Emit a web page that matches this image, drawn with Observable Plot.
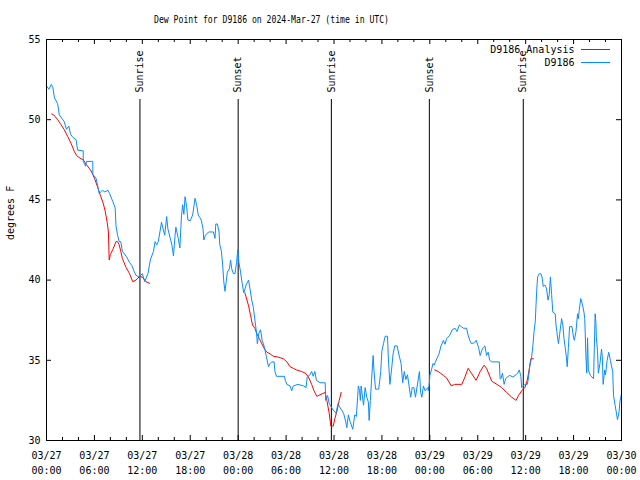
<!DOCTYPE html>
<html><head><meta charset="utf-8">
<script src="https://cdn.jsdelivr.net/npm/d3@7"></script>
<script src="https://cdn.jsdelivr.net/npm/@observablehq/plot@0.6"></script>
<style>body{margin:0;background:#fff;} svg{display:block;}</style>
</head><body><div id="chart"></div>
<script>
const title = "Dew Point for D9186 on 2024-Mar-27 (time in UTC)";
const yLabel = "degrees F";
const startUTC = Date.UTC(2024, 2, 27);

// D9186 station observations (hours since 03/27 00:00 UTC, °F)
const stationHours = [0.0,0.3,0.6,0.8,1.0,1.4,1.6,1.9,2.2,2.5,2.8,3.0,3.3,3.7,3.9,4.6,4.6,4.9,5.0,5.8,5.8,6.2,6.4,6.6,7.0,7.3,7.7,7.9,8.3,8.6,8.7,8.9,9.1,9.3,9.5,10.0,10.4,10.7,11.0,11.2,11.6,12.0,12.3,12.7,13.0,13.4,13.6,13.8,14.0,14.2,14.4,14.6,14.8,15.05,15.2,15.5,15.7,15.9,16.1,16.2,16.5,16.7,16.9,17.05,17.2,17.35,17.55,17.7,18.0,18.3,18.6,18.8,19.0,19.2,19.4,19.6,19.7,19.9,20.3,20.9,21.1,21.2,21.4,21.6,21.7,21.9,22.05,22.2,22.35,22.5,22.65,22.9,23.05,23.2,23.4,23.6,23.8,23.95,24.1,24.3,24.5,24.7,25.0,25.3,25.5,25.7,25.9,26.1,26.3,26.4,26.6,26.8,27.0,27.3,27.5,27.8,28.0,28.2,28.5,28.6,28.8,29.8,29.9,30.1,30.5,30.7,30.9,31.5,32.2,32.5,32.65,33.0,33.2,33.4,33.6,33.8,34.25,34.9,34.95,35.2,35.4,35.9,36.25,36.5,36.7,37.2,37.5,37.6,37.8,38.0,38.35,38.6,38.8,39.05,39.2,39.3,39.4,39.7,39.9,40.1,40.3,40.4,40.55,40.7,40.9,41.0,41.2,41.6,41.85,42.0,42.2,42.4,42.7,42.8,43.0,43.2,43.4,43.6,43.9,44.2,44.4,44.6,44.8,45.0,45.2,45.4,45.6,45.8,46.0,46.2,46.7,46.85,47.0,47.2,47.4,47.75,47.8,47.95,48.0,48.2,48.4,48.55,48.7,49.15,49.4,49.7,49.9,50.1,50.5,50.8,51.15,51.4,51.7,51.95,52.2,52.6,52.8,53.0,53.2,53.6,53.8,54.1,54.3,54.5,54.7,54.9,55.1,55.3,55.5,55.75,56.7,56.8,56.9,57.1,57.3,57.5,57.7,58.0,58.4,58.8,59.0,59.2,59.4,59.5,59.9,60.2,60.35,60.5,60.75,60.9,61.05,61.2,61.3,61.4,61.5,61.7,61.9,62.05,62.2,62.4,62.6,62.8,62.95,63.1,63.25,63.4,63.7,63.8,63.9,64.1,64.25,64.4,64.5,64.65,64.8,64.95,65.1,65.2,65.35,65.5,65.8,66.0,66.1,66.3,66.5,66.6,66.7,66.9,67.1,67.3,67.4,67.55,67.65,67.75,67.85,68.1,68.3,68.5,68.7,68.8,68.85,69.0,69.1,69.3,69.5,69.6,69.7,69.9,70.0,70.2,70.4,70.6,70.9,71.0,71.2,71.4,71.5,71.7,71.8,71.9,72.0];
const stationValues = [52.1,51.9,52.2,52.0,51.35,51.0,50.3,50.1,49.9,49.4,49.6,49.1,48.9,48.75,48.1,48.06,47.4,47.1,47.4,47.4,46.6,46.35,45.9,45.4,45.6,45.5,45.6,45.4,44.9,44.5,43.4,42.8,42.4,42.4,41.8,41.46,41.1,40.9,40.5,40.3,40.2,40.4,39.9,40.4,41.25,41.8,42.4,42.2,42.4,43.0,43.6,43.2,42.8,43.96,43.2,42.6,42.2,41.5,42.8,43.3,42.6,42.0,44.0,44.7,44.1,45.2,44.6,43.75,43.7,44.06,45.1,44.7,44.06,43.9,43.7,43.2,42.5,42.8,43.0,43.0,42.6,43.5,43.5,43.0,42.2,41.8,41.0,39.9,39.3,39.9,40.5,40.7,41.25,40.7,40.4,40.4,41.1,41.9,41.1,40.5,39.8,39.2,39.7,40.0,39.4,38.75,38.3,37.5,36.7,36.04,36.7,36.9,36.25,35.8,35.3,34.6,34.8,34.9,34.9,34.3,34.0,34.0,33.75,33.5,33.4,33.1,33.4,33.5,33.4,33.3,33.96,34.1,34.3,34.0,34.3,33.75,33.6,33.6,32.5,32.8,32.3,31.9,31.7,32.3,32.1,31.7,31.1,30.8,31.6,31.2,30.7,31.6,31.5,33.4,33.1,32.5,33.4,32.2,33.3,32.7,32.4,31.25,32.5,33.75,35.3,34.4,33.2,33.2,34.3,35.6,36.04,36.5,36.5,35.2,33.5,34.4,35.4,35.9,35.9,35.2,34.8,33.6,34.3,33.8,34.1,33.4,32.7,33.3,33.3,32.7,34.3,33.0,32.7,33.4,33.1,33.3,33.1,33.6,34.06,34.4,34.8,34.7,34.9,35.4,35.9,36.25,36.0,36.35,36.56,36.9,37.0,36.8,37.2,37.1,37.0,37.0,36.56,36.25,36.04,36.1,36.25,35.8,35.3,35.6,35.8,35.9,35.3,35.5,35.0,34.9,34.9,33.85,33.85,34.2,33.5,33.85,33.96,34.06,33.96,34.1,34.2,34.4,34.0,33.3,33.5,33.5,33.9,34.6,35.2,35.9,36.8,37.4,38.5,39.5,40.2,40.4,40.4,40.2,39.6,39.7,39.5,38.75,39.1,40.2,39.1,38.0,37.9,37.2,36.8,36.04,36.6,37.2,37.6,37.2,36.35,35.8,35.2,34.6,35.8,37.1,37.1,36.4,36.25,36.8,37.9,37.6,38.1,38.85,38.5,38.0,37.6,35.2,34.2,36.4,34.4,34.06,33.96,33.85,37.9,37.3,36.4,35.6,34.2,34.8,35.7,35.2,33.5,34.4,34.1,35.0,35.5,35.0,34.3,32.8,32.2,31.6,31.3,31.8,32.4,32.7,32.9];

// D9186 Analysis (null = gap)
const analysisHours = [0.65,0.9,1.4,1.8,2.2,2.65,3.1,3.5,3.8,4.2,4.6,5.0,5.6,6.0,6.4,6.8,7.1,7.35,7.6,7.75,7.85,8.0,8.3,8.7,8.9,9.1,9.3,9.5,9.95,10.4,10.8,11.2,11.6,12.0,12.45,12.9,null,24.85,25.3,25.55,25.8,26.1,26.3,26.65,26.95,27.3,27.6,28.0,28.4,29.0,29.65,30.1,30.5,30.9,31.3,31.95,32.4,32.8,33.2,33.5,33.85,34.25,34.9,35.1,35.4,35.6,35.9,36.1,36.4,36.65,36.9,null,48.6,49.05,49.7,50.1,50.7,51.1,52.0,52.4,52.8,53.2,53.8,54.3,54.8,55.1,55.75,56.4,57.0,57.6,58.25,58.8,59.1,59.5,59.9,60.2,60.5,60.65,60.95];
const analysisValues = [50.36,50.3,50.0,49.7,49.4,48.96,48.5,48.0,47.75,47.6,47.5,47.2,46.8,46.35,45.8,45.2,44.8,44.3,43.6,43.0,41.25,41.6,41.9,42.4,42.4,42.2,41.8,41.35,40.8,40.4,39.9,40.0,40.2,40.2,39.9,39.8,null,39.2,38.4,37.8,37.2,37.0,36.7,36.35,36.04,35.7,35.5,35.4,35.25,35.2,35.1,34.9,34.6,34.5,34.4,34.3,34.2,33.96,33.5,33.1,32.75,32.85,33.0,32.5,31.7,30.9,30.9,31.35,31.9,32.5,33.0,null,34.4,34.3,34.06,33.9,33.4,33.5,33.5,33.96,34.5,34.2,33.75,34.3,34.7,34.5,33.7,33.5,33.3,33.0,32.7,32.5,32.8,33.1,33.3,33.75,34.6,35.1,35.1];

const sunHours = [11.7, 24.0, 35.67, 47.94, 59.7];
const sunLabels = ["Sunrise", "Sunset", "Sunrise", "Sunset", "Sunrise"];

const xTickHours = [0, 6, 12, 18, 24, 30, 36, 42, 48, 54, 60, 66, 72];
const xTickLabels = ["03/27\n00:00","03/27\n06:00","03/27\n12:00","03/27\n18:00","03/28\n00:00","03/28\n06:00","03/28\n12:00","03/28\n18:00","03/29\n00:00","03/29\n06:00","03/29\n12:00","03/29\n18:00","03/30\n00:00"];
const xMinorHours = [2,4,8,10,14,16,20,22,26,28,32,34,38,40,44,46,50,52,56,58,62,64,68,70];
const yTicks = [30, 35, 40, 45, 50, 55];

const seriesNames = ["D9186 Analysis", "D9186"];
const seriesColors = ["#ff0000", "#0a8cff"];

const toDate = h => h == null ? null : new Date(startUTC + h * 3600e3);
const station = stationHours.map((h, i) => ({t: toDate(h), v: stationValues[i]}));
const analysis = analysisHours.map((h, i) => ({t: toDate(h), v: analysisValues[i]}));
const sun = sunHours.map((h, i) => ({t: toDate(h), label: sunLabels[i]}));
const labelFor = d => xTickLabels[xTickHours.indexOf(Math.round((+d - startUTC) / 3600e3))];

const chart = Plot.plot({
  width: 640, height: 480,
  marginLeft: 46, marginRight: 19, marginTop: 39, marginBottom: 40,
  style: {fontFamily: "'DejaVu Sans Mono', monospace", fontSize: "10px", color: "black", background: "white"},
  x: {type: "utc", domain: [toDate(0), toDate(72)]},
  y: {domain: [30, 55]},
  marks: [
    Plot.axisX({ticks: xTickHours.map(toDate), tickSize: 0, tickPadding: 8, tickFormat: labelFor, lineHeight: 1.5, label: null}),
    Plot.axisY({ticks: yTicks, tickSize: 0, tickPadding: 6, label: null}),
    // inward ticks
    Plot.ruleX(xTickHours.map(toDate), {insetTop: 396, stroke: "black"}),
    Plot.ruleX(xTickHours.map(toDate), {insetBottom: 396, stroke: "black"}),
    Plot.ruleX(xMinorHours.map(toDate), {insetTop: 398, stroke: "black"}),
    Plot.ruleX(xMinorHours.map(toDate), {insetBottom: 398, stroke: "black"}),
    Plot.ruleY(yTicks, {insetRight: 570, stroke: "black"}),
    Plot.ruleY(yTicks, {insetLeft: 570, stroke: "black"}),
    // sunrise / sunset
    Plot.ruleX(sun, {x: "t", insetTop: 60, stroke: "black"}),
    Plot.text(sun, {x: "t", text: "label", frameAnchor: "top", dy: 53, rotate: -90, textAnchor: "start", lineAnchor: "middle", fill: "black"}),
    // data
    Plot.line(analysis, {x: "t", y: "v", stroke: seriesColors[0], strokeWidth: 1}),
    Plot.line(station, {x: "t", y: "v", stroke: seriesColors[1], strokeWidth: 1}),
    // labels
    Plot.text([yLabel], {text: d => d, frameAnchor: "left", dx: -36, rotate: -90, fill: "black"}),
    Plot.text([title], {text: d => d, frameAnchor: "top-left", dx: 225, dy: -20, lineAnchor: "middle", textAnchor: "middle", fill: "black"}),
    Plot.text([seriesNames[0]], {text: d => d, frameAnchor: "top-right", dx: -47, dy: 10.5, textAnchor: "end", lineAnchor: "middle", fill: "black"}),
    Plot.text([seriesNames[1]], {text: d => d, frameAnchor: "top-right", dx: -47, dy: 23, textAnchor: "end", lineAnchor: "middle", fill: "black"}),
    Plot.frame({stroke: "black"})
  ]
});

// legend swatches and condensed title
const svg = d3.select(chart);
svg.selectAll("text").filter(function() { return this.textContent === title; })
  .attr("textLength", 235).attr("lengthAdjust", "spacingAndGlyphs");
const lg = svg.append("g").attr("stroke-width", 1);
[49.5, 62.5].forEach((y, i) => {
  lg.append("line").attr("x1", 581).attr("x2", 610).attr("y1", y).attr("y2", y).attr("stroke", seriesColors[i]);
});
document.getElementById("chart").append(chart);
</script>
</body></html>
